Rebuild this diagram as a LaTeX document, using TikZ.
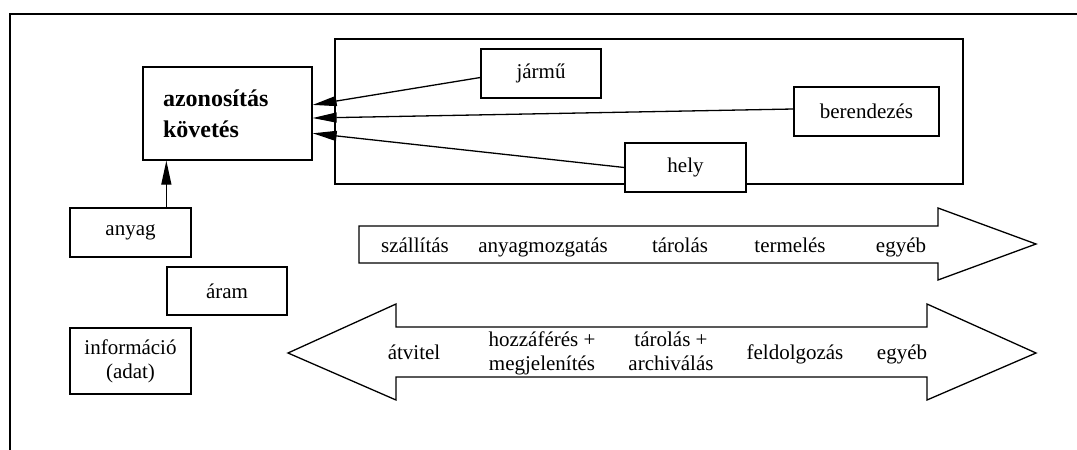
\documentclass[tikz,border=0pt]{standalone}
\usepackage{fontspec}
\setmainfont{Liberation Serif}
\usetikzlibrary{arrows.meta,calc}
\begin{document}
\begin{tikzpicture}[x=1pt,y=-1pt,
  box/.style={draw, line width=1.3pt, fill=white, inner sep=0pt, align=center,
    font=\fontsize{21}{24}\selectfont},
  conn/.style={line width=1.3pt, -{Triangle[length=24pt,width=10pt]}},
  bigarrow/.style={draw, line width=1.3pt, fill=white},
  frame/.style={line width=1.8pt},
  lbl/.style={font=\fontsize{21}{24}\selectfont, align=center, inner sep=0pt, anchor=base}]
\useasboundingbox (0,0) rectangle (1077,450);
% outer frame (top and left)
\coordinate (ftl) at (10,14);
\coordinate (ftr) at (1077,14);
\coordinate (fbl) at (10,450);
\draw[frame] (fbl) -- (ftl) -- (ftr);
% group box
\node[draw, line width=1.3pt, minimum width=628pt, minimum height=145pt, inner sep=0pt] (grp) at (649,111.5) {};
% main box
\node[box, align=left, text width=129pt, inner xsep=20pt, minimum height=93pt,
  font=\bfseries\fontsize{24}{31}\selectfont] (az) at (227.5,113.5) {azonosítás\\követés};
% inner boxes
\node[box, minimum width=120pt, minimum height=49pt] (jar) at (541,73.5) {jármű};
\node[box, minimum width=145pt, minimum height=49pt] (ber) at (866.5,111.5) {berendezés};
\node[box, minimum width=121pt, minimum height=49pt] (hely) at (685.5,167.5) {hely};
% left boxes
\node[box, minimum width=121pt, minimum height=49pt] (any) at (130.5,232.5) {anyag};
\node[box, minimum width=120pt, minimum height=48pt] (aram) at (227,291) {áram};
\node[box, minimum width=121pt, minimum height=66pt] (inf) at (130.5,361) {információ\\(adat)};
% connectors
\draw[conn] ($(jar.west)+(0,4)$) -- ($(az.north east)!0.409!(az.south east)$);
\draw[conn] ($(ber.west)+(0,-2.5)$) -- ($(az.north east)!0.548!(az.south east)$);
\draw[conn] (hely.west) -- ($(az.north east)!0.71!(az.south east)$);
\coordinate (anyx) at ($(any.north west)+(97,0)$);
\draw[conn] (anyx) -- (anyx |- az.south);
% top single arrow
\draw[bigarrow] (359,226) -- (938,226) -- (938,208) -- (1036,244) -- (938,280)
  -- (938,263) -- (359,263) -- cycle;
\node[lbl] (t1) at (415,252) {szállítás};
\node[lbl] (t2) at (543,252) {anyagmozgatás};
\node[lbl] (t3) at (680,252) {tárolás};
\node[lbl] (t4) at (790,252) {termelés};
\node[lbl] (t5) at (901,252) {egyéb};
% lower double arrow
\draw[bigarrow] (288,353) -- (396,304) -- (396,327) -- (927,327) -- (927,304)
  -- (1036,353) -- (927,400) -- (927,377) -- (396,377) -- (396,400) -- cycle;
\node[lbl] (b1) at (414,359) {átvitel};
\node[lbl] (b2) at (542,370) {hozzáférés +\\megjelenítés};
\node[lbl] (b3) at (671,370) {tárolás +\\archiválás};
\node[lbl] (b4) at (795,359) {feldolgozás};
\node[lbl] (b5) at (902,359) {egyéb};
\end{tikzpicture}
\end{document}
